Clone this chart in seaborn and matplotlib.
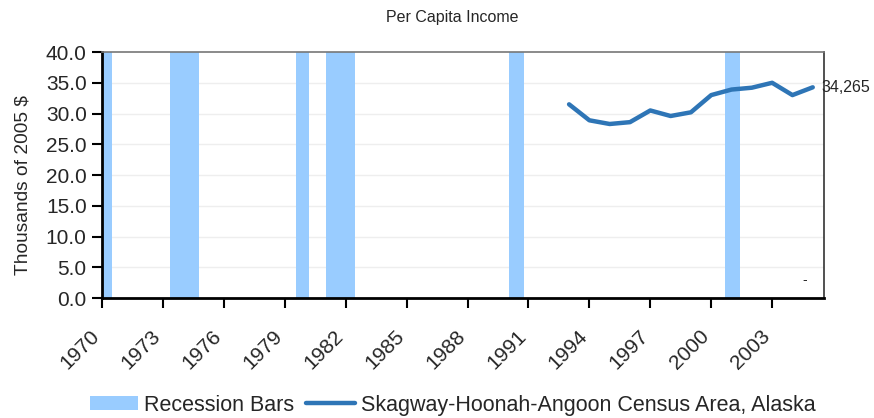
import pandas as pd
import matplotlib
matplotlib.use('Agg')
import matplotlib.pyplot as plt
import matplotlib.transforms as mtransforms
import seaborn as sns

# --- data ---
years = [1993, 1994, 1995, 1996, 1997, 1998, 1999, 2000, 2001, 2002, 2003, 2004, 2005]
income = [31.5, 28.9, 28.3, 28.6, 30.5, 29.6, 30.2, 33.0, 33.9, 34.2, 35.0, 33.0, 34.265]

rec_start = [1969.6, 1973.36, 1979.57, 1981.05, 1990.06, 2000.7]
rec_end = [1970.5, 1974.8, 1980.17, 1982.48, 1990.8, 2001.42]

tick_years = list(range(1970, 2004, 3))

df = pd.DataFrame({'year': years, 'income': income})

sns.set_theme(style='white')
plt.rcParams['font.family'] = ['Liberation Sans', 'DejaVu Sans']

fig = plt.figure(figsize=(8.74, 4.18), dpi=100)
ax = fig.add_axes([0.1167, 0.287, 0.826, 0.5885])

# recession bars
widths = [e - s for s, e in zip(rec_start, rec_end)]
ax.bar(rec_start, [40] * len(rec_start), width=widths, align='edge',
       color='#99CCFF', linewidth=0, label='Recession Bars', zorder=1)

sns.lineplot(data=df, x='year', y='income', ax=ax, color='#2E75B6', linewidth=3.2,
             label='Skagway-Hoonah-Angoon Census Area, Alaska', zorder=3, legend=False)

ax.set_xlim(1970, 2005.55)
ax.set_ylim(0, 40)
ax.set_yticks(range(0, 41, 5))
ax.set_yticklabels([f'{v:.1f}' for v in range(0, 41, 5)], fontsize=15)
ax.set_xticks(tick_years)
ax.set_xticklabels([str(y) for y in tick_years], rotation=45, ha='right',
                   rotation_mode='anchor', fontsize=15)
ax.tick_params(axis='both', direction='out', length=7, width=1.5, color='black',
               bottom=True, left=True)
ax.tick_params(axis='x', pad=10)
ax.tick_params(axis='y', pad=4)

# nudge the rotated year labels left/down like the original
shift = mtransforms.ScaledTranslation(-12 / 100, -5 / 100, fig.dpi_scale_trans)
for lbl in ax.get_xticklabels():
    lbl.set_transform(lbl.get_transform() + shift)

for v in range(5, 40, 5):
    ax.axhline(v, color='#EEEEEE', linewidth=1, zorder=0)

ax.spines['left'].set_color('black')
ax.spines['left'].set_linewidth(2)
ax.spines['bottom'].set_color('black')
ax.spines['bottom'].set_linewidth(2)
ax.spines['top'].set_color('#777777')
ax.spines['top'].set_linewidth(1.2)
ax.spines['right'].set_color('#333333')
ax.spines['right'].set_linewidth(1.2)

ax.set_xlabel('')
ax.set_ylabel('Thousands of 2005 $', fontsize=13.8)
ax.yaxis.set_label_coords(-0.097, 0.46)

ax.text(years[-1] + 0.45, income[-1], f'{income[-1] * 1000:,.0f}', fontsize=11.5,
        va='center', ha='left', clip_on=False)
ax.text(2004.6, 2.9, '-', fontsize=10, ha='center', va='center')

fig.text(0.518, 0.957, 'Per Capita Income', fontsize=11.5, ha='center', va='center')

bar_handle = ax.patches[0]
line_handle = ax.lines[0]
fig.legend([bar_handle, line_handle],
           ['Recession Bars', 'Skagway-Hoonah-Angoon Census Area, Alaska'],
           loc='center', bbox_to_anchor=(0.518, 0.031), ncol=2,
           frameon=False, fontsize=15.5, handlelength=2.25, handleheight=0.65,
           handletextpad=0.28, columnspacing=0.55, borderaxespad=0, borderpad=0)

fig.savefig('out.png', dpi=100)
